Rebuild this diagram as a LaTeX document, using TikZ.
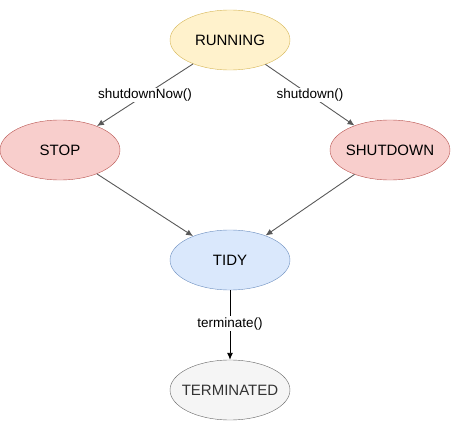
\documentclass[tikz,border=0pt]{standalone}
\usepackage{fontspec}
\setmainfont{Liberation Sans}
\usetikzlibrary{shapes.geometric,arrows.meta}
\definecolor{runfill}{HTML}{FFF2CC}
\definecolor{runline}{HTML}{D6B656}
\definecolor{stopfill}{HTML}{F8CECC}
\definecolor{stopline}{HTML}{B85450}
\definecolor{tidyfill}{HTML}{DAE8FC}
\definecolor{tidyline}{HTML}{6C8EBF}
\definecolor{endfill}{HTML}{F5F5F5}
\definecolor{endline}{HTML}{666666}
\definecolor{endtext}{HTML}{333333}
\definecolor{edgegray}{HTML}{595959}
\begin{document}
\begin{tikzpicture}[x=1pt, y=-1pt,
    state/.style={ellipse, draw, inner xsep=-16pt, inner ysep=0pt, minimum width=120pt, minimum height=60pt,
        font=\fontsize{15}{17}\selectfont},
    trans/.style={draw=edgegray, line width=0.9pt, -{Latex[length=7pt,width=6pt]}},
    lbl/.style={fill=white, inner sep=1pt, font=\fontsize{13.5}{15}\selectfont}]
\useasboundingbox (0,0) rectangle (451,431);
\node [state, fill=runfill, draw=runline] (running) at (230,40) {RUNNING};
\node [state, fill=stopfill, draw=stopline] (stop) at (60,150) {STOP};
\node [state, fill=stopfill, draw=stopline] (shutdown) at (390,150) {SHUTDOWN};
\node [state, fill=tidyfill, draw=tidyline] (tidy) at (230,260) {TIDY};
\node [state, fill=endfill, draw=endline, text=endtext] (terminated) at (230,390) {TERMINATED};
\foreach \a/\b/\t in {running/stop/shutdownNow(), running/shutdown/shutdown()}{
    \draw [trans] (\a) -- node [lbl] {\t} (\b);
}
\foreach \a in {stop,shutdown}{
    \draw [trans] (\a) -- (tidy);
}
\draw [trans, draw=black] (tidy) -- node [lbl, pos=0.48] {terminate()} (terminated);
\end{tikzpicture}
\end{document}
